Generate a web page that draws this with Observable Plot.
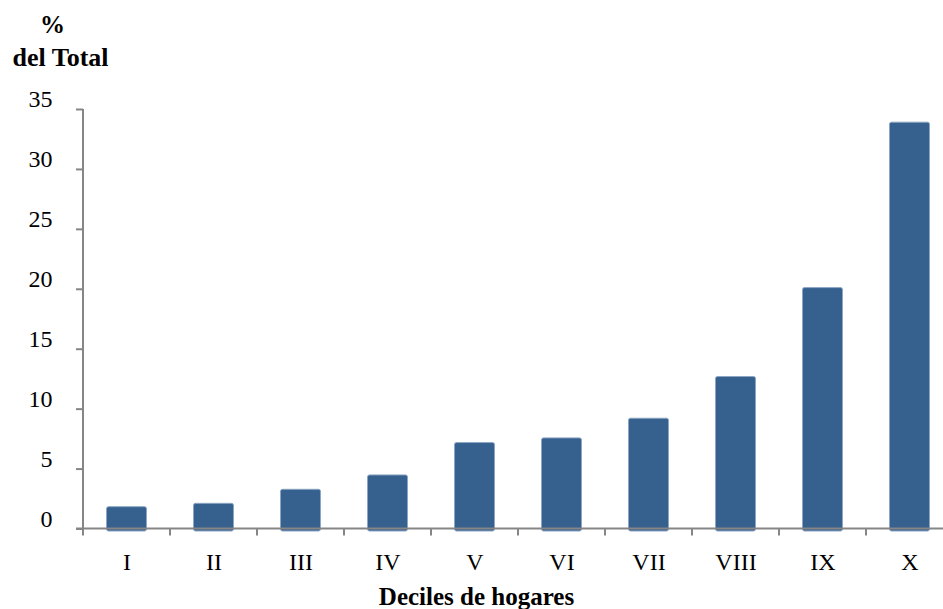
<!DOCTYPE html>
<html>
<head>
<meta charset="utf-8">
<script src="https://cdn.jsdelivr.net/npm/d3@7"></script>
<script src="https://cdn.jsdelivr.net/npm/@observablehq/plot@0.6"></script>
<style>
  html, body { margin: 0; padding: 0; background: #fff; }
  #chart { width: 943px; height: 609px; overflow: hidden; }
</style>
</head>
<body>
<div id="chart"></div>
<script>
const deciles = ["I", "II", "III", "IV", "V", "VI", "VII", "VIII", "IX", "X"];
const shares = [1.82, 2.1, 3.27, 4.47, 7.17, 7.56, 9.2, 12.68, 20.1, 33.9];
const yTicks = [0, 5, 10, 15, 20, 25, 30, 35];
const yTitle = ["%", "del Total"];
const xTitle = "Deciles de hogares";

const data = deciles.map((d, i) => ({decile: d, value: shares[i]}));

const axisColor = "#868686";
const font = "'Liberation Serif', 'DejaVu Serif', serif";

function frameLines(index, scales) {
  const x = scales.x, y = scales.y;
  const bw = x.bandwidth ? x.bandwidth() : 87;
  const y0 = y(0), yTop = y(35);
  const x0 = x(deciles[0]);
  const x1 = x(deciles[deciles.length - 1]) + bw;
  const g = d3.create("svg:g")
    .attr("stroke", axisColor)
    .attr("stroke-width", 2)
    .attr("fill", "none");
  g.append("line").attr("x1", x0).attr("x2", x0).attr("y1", yTop).attr("y2", y0 + 7);
  g.append("line").attr("x1", x0 - 7).attr("x2", x1).attr("y1", y0).attr("y2", y0);
  deciles.forEach((d, i) => {
    if (i > 0) g.append("line").attr("x1", x(d)).attr("x2", x(d)).attr("y1", y0).attr("y2", y0 + 7);
  });
  g.append("line").attr("x1", x1).attr("x2", x1).attr("y1", y0).attr("y2", y0 + 7);
  return g.node();
}

const chart = Plot.plot({
  width: 943,
  height: 609,
  marginTop: 109,
  marginBottom: 80.5,
  marginLeft: 83,
  marginRight: 0,
  style: {fontFamily: font, color: "#000", background: "#fff", overflow: "hidden"},
  x: {type: "band", domain: deciles, range: [83, 953], padding: 0},
  y: {domain: [0, 35]},
  marks: [
    Plot.barY(data, {
      x: "decile", y: "value",
      fill: "#36618f", stroke: "#8da6c4", strokeWidth: 1,
      insetLeft: 23.5, insetRight: 23.5, insetBottom: -2.5, rx: 2
    }),
    Plot.axisY({
      ticks: yTicks, tickSize: 7, tickPadding: 0, stroke: axisColor, strokeWidth: 2,
      label: null, tickFormat: () => ""
    }),
    frameLines,
    Plot.axisY({
      ticks: yTicks, tickSize: 0, tickPadding: 31,
      fontSize: 24, dy: -10, label: null, tickFormat: d => String(d), fill: "#000"
    }),
    Plot.axisX({
      tickSize: 0, tickPadding: 24, fontSize: 24, label: null, fill: "#000"
    }),
    Plot.text([yTitle[0]], {
      frameAnchor: "top-left", text: d => d, dx: -31, dy: -77,
      textAnchor: "middle", lineAnchor: "bottom", fontSize: 25, fontWeight: "bold", fill: "#000"
    }),
    Plot.text([yTitle[1]], {
      frameAnchor: "top-left", text: d => d, dx: -23, dy: -44,
      textAnchor: "middle", lineAnchor: "bottom", fontSize: 26, fontWeight: "bold", fill: "#000"
    }),
    Plot.text([xTitle], {
      frameAnchor: "bottom", text: d => d, dx: -37, dy: 75.5,
      textAnchor: "middle", lineAnchor: "bottom", fontSize: 25, fontWeight: "bold", fill: "#000"
    })
  ]
});

document.getElementById("chart").appendChild(chart);
</script>
</body>
</html>
